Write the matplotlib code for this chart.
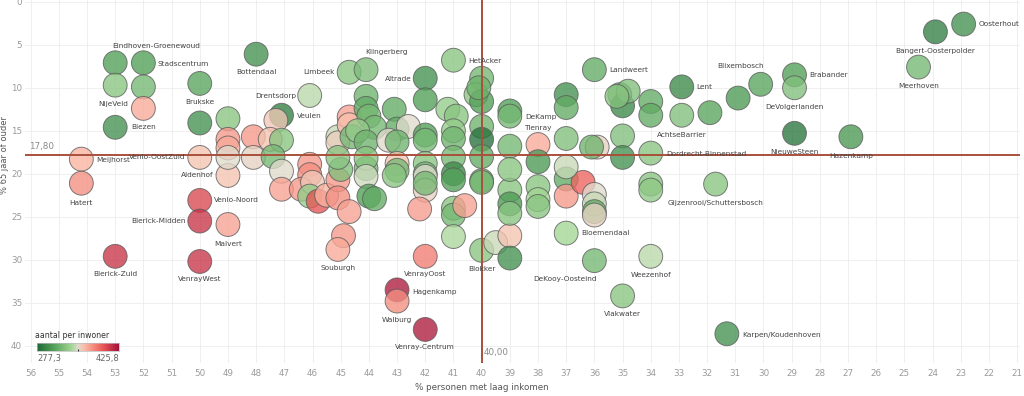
import numpy as np
import matplotlib
matplotlib.use("Agg")
import matplotlib.pyplot as plt
from matplotlib.colors import LinearSegmentedColormap

# wijken: naam, % personen met laag inkomen, % 65 jaar of ouder, aantal per inwoner
# (10 wijken per regel in elke lijst)
names = [
    "Eindhoven-Groenewoud", "Stadscentrum", "NijeVeld", "", "", "Biezen", "Bottendaal", "Brukske", "", "Meijhorst",
    "Hatert", "Venlo-OostZuid", "Venlo-Noord", "Blerick-Midden", "Malvert", "Blerick-Zuid", "VenrayWest", "Aldenhof", "", "",
    "", "", "", "", "Drentsdorp", "Veulen", "", "", "", "",
    "", "", "", "", "", "", "", "", "", "",
    "", "", "", "", "Souburgh", "", "", "", "", "",
    "", "", "Limbeek", "Klingerberg", "Altrade", "", "", "", "", "",
    "", "", "", "", "", "", "", "", "", "",
    "", "", "", "", "", "", "", "", "", "",
    "", "HetAcker", "", "", "", "", "", "", "", "",
    "", "", "", "", "", "", "", "", "", "",
    "", "", "VenrayOost", "Hagenkamp", "Walburg", "Venray-Centrum", "Blokker", "", "", "",
    "", "", "", "", "", "", "", "", "", "",
    "", "", "", "", "Bloemendaal", "DeKooy-Oosteind", "Weezenhof", "Vlakwater", "", "",
    "DeKamp", "", "", "", "Tienray", "", "", "", "", "",
    "", "", "Landweert", "", "", "", "", "", "", "",
    "", "Dordrecht-Binnenstad", "Lent", "AchtseBarrier", "", "", "Blixembosch", "Brabander", "DeVolgerlanden", "NieuweSteen",
    "Hazenkamp", "Meerhoven", "Bangert-Oosterpolder", "Oosterhout", "Gijzenrooi/Schuttersbosch", "Karpen/Koudenhoven",
]
laag_inkomen = [
    53.0, 52.0, 53.0, 52.0, 52.0, 53.0, 48.0, 50.0, 50.0, 54.2,
    54.2, 50.0, 50.0, 50.0, 49.0, 53.0, 50.0, 49.0, 49.0, 49.0,
    49.0, 49.0, 48.1, 48.1, 46.1, 47.1, 47.3, 47.5, 47.1, 47.4,
    47.1, 46.1, 46.1, 47.1, 46.4, 46.0, 46.1, 45.8, 45.5, 45.1,
    45.0, 45.1, 44.7, 44.9, 45.1, 45.1, 45.1, 45.1, 44.1, 44.7,
    44.7, 44.6, 44.7, 44.1, 42.0, 42.0, 43.1, 44.1, 44.1, 44.0,
    43.0, 42.6, 43.8, 44.4, 44.1, 43.3, 43.0, 42.0, 42.0, 44.1,
    43.0, 43.0, 44.1, 42.0, 42.0, 41.2, 40.9, 41.0, 41.0, 41.0,
    41.0, 41.0, 40.0, 40.2, 40.0, 40.0, 40.0, 40.0, 40.0, 40.1,
    43.1, 44.0, 43.8, 42.0, 42.0, 42.0, 42.2, 41.0, 41.0, 41.0,
    40.6, 41.0, 42.0, 43.0, 43.0, 42.0, 40.0, 39.5, 39.0, 39.0,
    40.0, 39.0, 39.0, 39.0, 38.0, 38.0, 38.0, 37.0, 37.0, 36.4,
    36.0, 36.0, 36.0, 36.0, 37.0, 36.0, 34.0, 35.0, 34.0, 34.0,
    39.0, 39.0, 39.0, 39.0, 38.0, 38.0, 37.0, 37.0, 37.0, 37.0,
    35.9, 36.1, 36.0, 35.1, 35.0, 34.8, 35.2, 35.0, 35.0, 34.0,
    34.0, 34.0, 32.9, 32.9, 31.9, 30.9, 30.1, 28.9, 28.9, 28.9,
    26.9, 24.5, 23.9, 22.9, 31.7, 31.3,
]
pct_65plus = [
    7.1, 7.1, 9.7, 9.9, 12.4, 14.6, 6.1, 9.5, 14.1, 18.3,
    21.1, 18.1, 23.1, 25.5, 25.9, 29.6, 30.2, 20.2, 13.6, 16.0,
    17.0, 18.1, 15.7, 18.1, 10.9, 13.2, 13.8, 16.0, 16.1, 18.0,
    19.7, 18.9, 20.1, 21.8, 21.8, 21.0, 22.6, 23.2, 22.5, 20.7,
    19.5, 22.8, 24.4, 27.2, 28.8, 15.7, 16.4, 18.1, 19.4, 13.4,
    14.3, 15.7, 8.2, 7.9, 8.9, 11.4, 12.5, 11.0, 12.4, 13.3,
    14.8, 14.5, 14.6, 15.0, 16.3, 16.1, 16.3, 15.5, 16.1, 18.2,
    18.8, 19.6, 20.3, 18.8, 20.0, 12.5, 13.3, 15.0, 15.9, 18.1,
    20.0, 6.8, 8.9, 10.8, 11.6, 14.5, 16.0, 18.0, 20.8, 10.0,
    20.2, 22.6, 22.9, 20.3, 21.9, 21.1, 24.1, 20.7, 24.0, 24.8,
    23.7, 27.3, 29.6, 33.5, 34.8, 38.1, 28.9, 28.0, 27.2, 29.8,
    21.0, 21.9, 23.5, 24.6, 21.5, 23.0, 23.8, 20.6, 22.6, 21.0,
    22.4, 23.5, 24.4, 24.8, 26.9, 30.1, 29.6, 34.2, 21.2, 21.9,
    12.7, 13.3, 16.8, 19.5, 16.6, 18.6, 10.8, 12.3, 15.9, 19.2,
    16.9, 16.9, 7.9, 10.8, 12.1, 10.4, 11.0, 15.6, 18.1, 11.6,
    13.2, 17.6, 9.9, 13.2, 12.9, 11.2, 9.6, 8.5, 10.0, 15.3,
    15.7, 7.6, 3.5, 2.6, 21.2, 38.6,
]
per_inwoner = [
    307.0, 307.0, 329.3, 321.9, 369.4, 299.6, 299.6, 310.0, 299.6, 366.4,
    378.3, 360.5, 403.5, 411.0, 372.3, 411.0, 411.0, 360.5, 329.3, 375.3,
    369.4, 351.6, 375.3, 354.5, 344.1, 289.2, 359.0, 360.5, 329.3, 321.9,
    351.6, 375.3, 378.3, 372.3, 375.3, 359.0, 333.7, 399.1, 366.4, 375.3,
    326.3, 378.3, 372.3, 375.3, 369.4, 347.1, 356.0, 329.3, 321.9, 372.3,
    362.0, 321.9, 329.3, 324.8, 299.6, 307.0, 314.4, 318.9, 314.4, 321.9,
    314.4, 351.6, 321.9, 333.7, 318.9, 351.6, 318.9, 307.0, 321.9, 329.3,
    360.5, 321.9, 348.6, 329.3, 321.9, 333.7, 329.3, 333.7, 318.9, 321.9,
    295.1, 329.3, 321.9, 329.3, 307.0, 318.9, 281.8, 314.4, 318.9, 318.9,
    329.3, 307.0, 314.4, 351.6, 354.5, 321.9, 373.8, 307.0, 329.3, 321.9,
    372.3, 341.2, 384.2, 421.3, 378.3, 421.3, 329.3, 347.1, 360.5, 299.6,
    321.9, 329.3, 304.0, 329.3, 329.3, 339.7, 329.3, 314.4, 375.3, 393.1,
    351.6, 347.1, 314.4, 354.5, 339.7, 321.9, 344.1, 329.3, 329.3, 332.2,
    307.0, 321.9, 321.9, 329.3, 369.4, 304.0, 299.6, 314.4, 326.3, 347.1,
    354.5, 318.9, 314.4, 318.9, 295.1, 326.3, 329.3, 326.3, 299.6, 314.4,
    314.4, 329.3, 295.1, 326.3, 310.0, 304.0, 310.0, 307.0, 326.3, 284.7,
    302.5, 321.9, 289.2, 299.6, 329.3, 299.6,
]

gemiddelde_65 = 17.80
gemiddelde_inkomen = 40.00
vmin, vmax = 277.3, 425.8

# label placement: offset in pixels (dx, dy downwards) and alignment
label_pos = {
    "Eindhoven-Groenewoud": (41, -17, "center"), "Stadscentrum": (14, 1, "left"),
    "NijeVeld": (-2, 19, "center"), "Biezen": (16, 0, "left"),
    "Bottendaal": (0, 18, "center"), "Brukske": (0, 19, "center"),
    "Limbeek": (-15, 0, "right"), "Klingerberg": (20, -18, "center"),
    "Altrade": (-14, 1, "right"), "HetAcker": (15, 1, "left"),
    "Drentsdorp": (-13, 1, "right"), "Veulen": (15, 1, "left"),
    "DeKamp": (15, 6, "left"), "Tienray": (0, -17, "center"),
    "Landweert": (15, 0, "left"), "Lent": (14, 0, "left"),
    "AchtseBarrier": (0, 20, "center"), "Blixembosch": (-20, -18, "center"),
    "Brabander": (15, 0, "left"), "DeVolgerlanden": (0, 19, "center"),
    "NieuweSteen": (0, 19, "center"), "Hazenkamp": (0, 19, "center"),
    "Meerhoven": (0, 19, "center"), "Bangert-Oosterpolder": (0, 19, "center"),
    "Oosterhout": (15, 0, "left"), "Dordrecht-Binnenstad": (15, 1, "left"),
    "Gijzenrooi/Schuttersbosch": (0, 19, "center"),
    "Karpen/Koudenhoven": (15, 1, "left"), "Weezenhof": (0, 19, "center"),
    "Vlakwater": (0, 18, "center"), "DeKooy-Oosteind": (-29, 18, "center"),
    "Bloemendaal": (15, 0, "left"), "Blokker": (0, 19, "center"),
    "VenrayOost": (0, 18, "center"), "Hagenkamp": (15, 2, "left"),
    "Walburg": (0, 19, "center"), "Venray-Centrum": (0, 18, "center"),
    "Souburgh": (0, 19, "center"), "Malvert": (0, 19, "center"),
    "VenrayWest": (0, 18, "center"), "Blerick-Zuid": (0, 18, "center"),
    "Blerick-Midden": (-14, 0, "right"), "Venlo-Noord": (14, 0, "left"),
    "Hatert": (0, 20, "center"), "Meijhorst": (15, 1, "left"),
    "Venlo-OostZuid": (-14, 0, "right"), "Aldenhof": (-14, 0, "right"),
}

cmap = LinearSegmentedColormap.from_list("rg", [
    (0.0, "#1e6a36"), (0.2, "#519f57"), (0.42, "#a2d694"), (0.5, "#dedbcc"),
    (0.58, "#fbbba6"), (0.8, "#ec5a57"), (1.0, "#a3113a")])

fig = plt.figure(figsize=(10.24, 3.96), dpi=100)
ax = fig.add_axes([25 / 1024, 33 / 396, 995 / 1024, 363 / 396])

ax.scatter(laag_inkomen, pct_65plus, c=per_inwoner, cmap=cmap, vmin=vmin, vmax=vmax,
           s=295, alpha=0.78, edgecolors="#5a5a5a", linewidths=0.7, zorder=2)

ax.set_xlim(56.2, 20.9)
ax.set_ylim(42.0, -0.2)
ax.set_xticks(np.arange(56, 20, -1))
ax.set_yticks(np.arange(0, 41, 5))
ax.grid(True, color="#ececec", linewidth=0.6, zorder=0)
ax.set_axisbelow(True)
for s in ax.spines.values():
    s.set_visible(False)
ax.tick_params(axis="x", length=0, labelsize=6.3, labelcolor="#9a9a9a", pad=4)
ax.tick_params(axis="y", length=0, labelsize=6.3, labelcolor="#9a9a9a", pad=2)

ax.axhline(gemiddelde_65, color="#a8503c", linewidth=1.4, zorder=3)
ax.axvline(gemiddelde_inkomen, color="#a8503c", linewidth=1.4, zorder=3)
ax.text(56.05, gemiddelde_65 - 0.4, "17,80", fontsize=6.3, color="#8a8a8a", ha="left", va="bottom")
ax.text(gemiddelde_inkomen - 0.08, 41.3, "40,00", fontsize=6.3, color="#8a8a8a", ha="left", va="bottom")

fig.text(482 / 1024, 1 - 388 / 396, "% personen met laag inkomen", fontsize=6.3,
         color="#555555", ha="center", va="center")
fig.text(5 / 1024, 1 - 155 / 396, "% 65 jaar of ouder", fontsize=6.0, color="#555555",
         ha="center", va="center", rotation=90)

for n, x, y in zip(names, laag_inkomen, pct_65plus):
    if not n:
        continue
    dx, dy, ha = label_pos[n]
    ax.annotate(n, (x, y), xytext=(dx * 0.72, -dy * 0.72), textcoords="offset points",
                ha=ha, va="center", fontsize=5.3, color="#444444", zorder=4)

# kleurlegenda
fig.text(35 / 1024, 1 - 335 / 396, "aantal per inwoner", fontsize=5.6, color="#333333",
         ha="left", va="center")
cax = fig.add_axes([37 / 1024, 1 - 351 / 396, 82 / 1024, 8 / 396])
cax.imshow(np.linspace(0, 1, 256)[None, :], aspect="auto", cmap=cmap)
cax.plot([127.5], [0.5], marker="|", color="#333333", markersize=3, markeredgewidth=0.8)
cax.set_xlim(-0.5, 255.5)
cax.set_xticks([])
cax.set_yticks([])
for s in cax.spines.values():
    s.set_edgecolor("#bbbbbb")
    s.set_linewidth(0.5)
fig.text(37 / 1024, 1 - 359 / 396, "277,3", fontsize=6.0, color="#666666", ha="left", va="center")
fig.text(119 / 1024, 1 - 359 / 396, "425,8", fontsize=6.0, color="#666666", ha="right", va="center")

fig.savefig("out.png", dpi=100)
